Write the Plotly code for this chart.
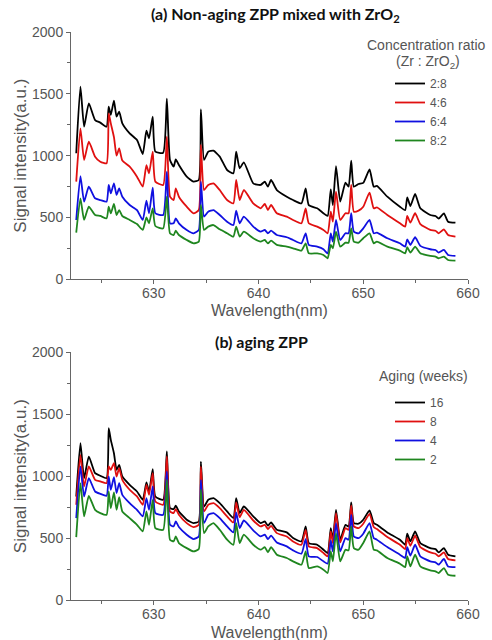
import plotly.graph_objects as go

# ---------------- data ----------------
wavelength = [622.6, 623.0, 623.35, 623.8, 624.4, 624.9, 625.5, 625.7, 625.9, 626.2,
              626.45, 626.7, 627.0, 627.7, 628.4, 628.95, 629.3, 629.55, 629.9, 630.15,
              630.9, 631.25, 631.55, 631.9, 632.1, 632.4, 633.15, 633.8, 634.3, 634.5,
              634.8, 635.2, 635.7, 636.3, 637.0, 637.6, 637.87, 638.2, 638.6, 639.5,
              640.2, 640.6, 640.9, 641.2, 641.75, 642.7, 643.3, 644.1, 644.5, 644.8,
              645.6, 646.2, 646.6, 646.9, 647.1, 647.4, 647.8, 648.3, 648.6, 648.85,
              649.1, 649.55, 650.0, 650.6, 651.0, 651.3, 652.3, 653.5, 654.0, 654.2,
              654.5, 654.95, 655.45, 656.4, 656.9, 657.2, 657.7, 658.1, 658.8]

# (a) Non-aging ZPP mixed with ZrO2 -- concentration ratio Zr : ZrO2
ratio_names = ["2:8", "4:6", "6:4", "8:2"]
a_2_8 = [1019, 1558, 1234, 1423, 1288, 1267, 1234, 1396, 1329, 1445,
         1315, 1356, 1261, 1180, 1127, 1013, 1202, 1140, 1315, 1032,
         1024, 1461, 965, 911, 970, 924, 830, 790, 803, 1374,
         965, 1032, 1040, 992, 884, 857, 1032, 897, 946, 776,
         763, 790, 749, 803, 722, 668, 641, 614, 736, 600,
         574, 534, 512, 728, 600, 916, 628, 782, 749, 959,
         749, 771, 780, 889, 749, 755, 668, 587, 560, 663,
         593, 690, 574, 520, 512, 490, 534, 466, 458]
a_4_6 = [790, 1221, 965, 1113, 992, 951, 938, 1342, 1261, 1150,
         1000, 1059, 960, 911, 830, 749, 924, 857, 1032, 790,
         763, 1153, 668, 641, 736, 668, 587, 534, 560, 1086,
         722, 763, 776, 722, 641, 614, 803, 641, 722, 614,
         574, 609, 560, 601, 534, 507, 480, 453, 574, 453,
         426, 399, 372, 547, 466, 709, 480, 534, 534, 763,
         547, 555, 587, 701, 574, 582, 520, 453, 426, 512,
         458, 534, 447, 399, 393, 372, 404, 358, 345]
a_6_4 = [480, 835, 628, 749, 655, 641, 628, 763, 695, 776,
         682, 736, 668, 601, 560, 480, 636, 534, 741, 534,
         520, 870, 453, 453, 493, 453, 399, 372, 399, 790,
         507, 547, 560, 520, 466, 439, 555, 453, 507, 426,
         385, 399, 372, 393, 358, 340, 318, 291, 372, 278,
         264, 243, 210, 372, 305, 480, 318, 372, 372, 534,
         385, 372, 412, 480, 372, 377, 332, 291, 264, 323,
         278, 340, 270, 243, 237, 216, 237, 197, 189]
a_8_2 = [377, 655, 480, 587, 520, 512, 493, 587, 534, 609,
         520, 560, 512, 480, 447, 399, 501, 453, 574, 431,
         412, 668, 372, 358, 393, 358, 318, 291, 305, 601,
         399, 426, 439, 404, 372, 345, 426, 345, 385, 332,
         305, 318, 291, 313, 278, 264, 251, 232, 291, 210,
         210, 197, 170, 278, 251, 385, 264, 296, 296, 412,
         305, 296, 332, 372, 291, 305, 264, 232, 210, 259,
         216, 264, 210, 189, 183, 170, 183, 156, 151]

# (b) aging ZPP -- aging time in weeks
aging_names = ["16", "8", "4", "2"]
b_16 = [836, 1266, 984, 1158, 1024, 1003, 984, 1387, 1293, 1185,
        1051, 1091, 997, 930, 876, 809, 949, 876, 1056, 836,
        809, 1199, 742, 734, 761, 715, 648, 621, 634, 1118,
        755, 809, 823, 782, 715, 661, 823, 702, 755, 675,
        621, 634, 600, 626, 567, 546, 500, 473, 594, 460,
        446, 406, 379, 581, 487, 728, 487, 607, 594, 788,
        621, 616, 648, 723, 621, 607, 546, 487, 446, 535,
        473, 554, 460, 419, 411, 384, 419, 366, 352]
b_8 = [769, 1172, 917, 1078, 970, 957, 943, 1078, 1051, 1105,
       997, 1064, 970, 890, 836, 769, 930, 849, 1024, 796,
       769, 1159, 715, 702, 734, 688, 621, 589, 607, 1078,
       715, 769, 782, 742, 675, 626, 788, 669, 728, 642,
       594, 607, 573, 599, 540, 513, 473, 446, 567, 433,
       419, 379, 352, 554, 460, 702, 465, 581, 567, 761,
       594, 581, 616, 696, 589, 573, 508, 446, 411, 500,
       438, 519, 427, 384, 374, 352, 384, 331, 320]
b_4 = [661, 1078, 836, 984, 876, 857, 841, 997, 890, 992,
       863, 943, 849, 782, 728, 675, 823, 728, 917, 702,
       688, 1038, 607, 594, 634, 589, 527, 492, 513, 970,
       621, 688, 702, 661, 594, 546, 707, 581, 642, 562,
       513, 527, 492, 519, 465, 433, 401, 374, 492, 352,
       347, 312, 293, 481, 392, 621, 392, 500, 487, 688,
       513, 500, 535, 621, 500, 487, 427, 366, 339, 427,
       358, 446, 352, 312, 304, 285, 331, 271, 266]
b_2 = [508, 943, 675, 841, 728, 702, 688, 876, 742, 868,
       728, 831, 715, 661, 607, 554, 715, 607, 809, 581,
       567, 970, 487, 473, 513, 460, 419, 392, 411, 890,
       540, 594, 621, 567, 487, 446, 621, 460, 527, 446,
       406, 427, 384, 427, 366, 339, 312, 285, 392, 258,
       271, 245, 218, 392, 312, 540, 312, 406, 401, 594,
       419, 406, 460, 554, 406, 401, 339, 293, 266, 352,
       271, 366, 271, 239, 231, 218, 258, 204, 196]

y_ticks = [0, 500, 1000, 1500, 2000]
x_ticks = [630, 640, 650, 660]

# ---------------- styling ----------------
colors = ["#000000", "#e01010", "#1010e0", "#1f861f"]
W, H = 492, 640
ML, MR, MT, MB = 71, 24, 32, 40
PH = H - MT - MB
PW = W - ML - MR


def py(pix):  # pixel row -> paper y
    return (H - MB - pix) / PH


def px(pix):  # pixel column -> paper x
    return (pix - ML) / PW


def clamp(v):
    return max(0.0, min(1.0, v))


LINE = dict(width=1.8, shape="spline", smoothing=0.5)

fig = go.Figure()
for name, vals, col in zip(ratio_names, [a_2_8, a_4_6, a_6_4, a_8_2], colors):
    fig.add_trace(go.Scatter(x=wavelength, y=vals, mode="lines", name=name,
                             line=dict(LINE, color=col), xaxis="x", yaxis="y",
                             legend="legend"))
for name, vals, col in zip(aging_names, [b_16, b_8, b_4, b_2], colors):
    fig.add_trace(go.Scatter(x=wavelength, y=vals, mode="lines", name=name,
                             line=dict(LINE, color=col), xaxis="x2", yaxis="y2",
                             legend="legend2"))

FONT = "Liberation Sans, Arial, sans-serif"
axis_common = dict(showline=True, linecolor="#666", linewidth=1, ticks="outside",
                   ticklen=4, tickcolor="#666", showgrid=False, zeroline=False,
                   tickfont=dict(family=FONT, size=14, color="#555"),
                   title_font=dict(family=FONT, size=17, color="#555"))
xaxis_common = dict(axis_common, range=[622.1, 660], tickvals=x_ticks,
                    ticklabelstandoff=-3,
                    minor=dict(dtick=5, ticks="outside", ticklen=3, tickcolor="#666"))
yaxis_common = dict(axis_common, range=[0, 2000], tickvals=y_ticks,
                    minor=dict(dtick=250, ticks="outside", ticklen=3, tickcolor="#666"),
                    title_text="Signal intensity(a.u.)", title_standoff=1)

top_lo, top_hi = clamp(py(279.3)), clamp(py(32))
bot_lo, bot_hi = clamp(py(600)), clamp(py(352.3))

fig.update_layout(
    width=W, height=H,
    margin=dict(l=ML, r=MR, t=MT, b=MB),
    paper_bgcolor="white", plot_bgcolor="white",
    font=dict(family=FONT, color="#555"),
    xaxis=dict(xaxis_common, domain=[0, 1], anchor="y"),
    yaxis=dict(yaxis_common, domain=[top_lo, top_hi], anchor="x"),
    xaxis2=dict(xaxis_common, domain=[0, 1], anchor="y2"),
    yaxis2=dict(yaxis_common, domain=[bot_lo, bot_hi], anchor="x2"),
    legend=dict(x=px(390), y=py(69), xanchor="left", yanchor="top",
                bgcolor="rgba(0,0,0,0)", borderwidth=0,
                font=dict(family=FONT, size=12, color="#555"), tracegroupgap=0),
    legend2=dict(x=px(390), y=py(388), xanchor="left", yanchor="top",
                 bgcolor="rgba(0,0,0,0)", borderwidth=0,
                 font=dict(family=FONT, size=12, color="#555"), tracegroupgap=0),
    showlegend=True,
)

TITLE_FONT = dict(family="Lato, Roboto, sans-serif", size=16, color="#111")
fig.add_annotation(text="<b>(a) Non-aging ZPP mixed with ZrO<sub>2</sub></b>", xref="paper", yref="paper",
                   x=px(275), y=py(15), xanchor="center", yanchor="middle",
                   showarrow=False, font=TITLE_FONT)
fig.add_annotation(text="<b>(b) aging ZPP</b>", xref="paper", yref="paper",
                   x=px(261), y=py(341.5), xanchor="center", yanchor="middle",
                   showarrow=False, font=TITLE_FONT)
XT_FONT = dict(family=FONT, size=16, color="#555")
fig.add_annotation(text="Wavelength(nm)", xref="paper", yref="paper",
                   x=px(269), y=py(310), xanchor="center", yanchor="middle",
                   showarrow=False, font=XT_FONT)
fig.add_annotation(text="Wavelength(nm)", xref="paper", yref="paper",
                   x=px(269), y=py(632), xanchor="center", yanchor="middle",
                   showarrow=False, font=XT_FONT)
LEG_TITLE = dict(family=FONT, size=14, color="#555")
fig.add_annotation(text="Concentration ratio", xref="paper", yref="paper",
                   x=px(426), y=py(45), xanchor="center", yanchor="middle",
                   showarrow=False, font=LEG_TITLE)
fig.add_annotation(text="(Zr : ZrO<sub>2</sub>)", xref="paper", yref="paper",
                   x=px(428), y=py(62), xanchor="center", yanchor="middle",
                   showarrow=False, font=LEG_TITLE)
fig.add_annotation(text="Aging (weeks)", xref="paper", yref="paper",
                   x=px(423), y=py(376), xanchor="center", yanchor="middle",
                   showarrow=False, font=LEG_TITLE)

fig.write_html("out.html", config={"displayModeBar": False},
               post_script="document.body.style.margin='0';")
